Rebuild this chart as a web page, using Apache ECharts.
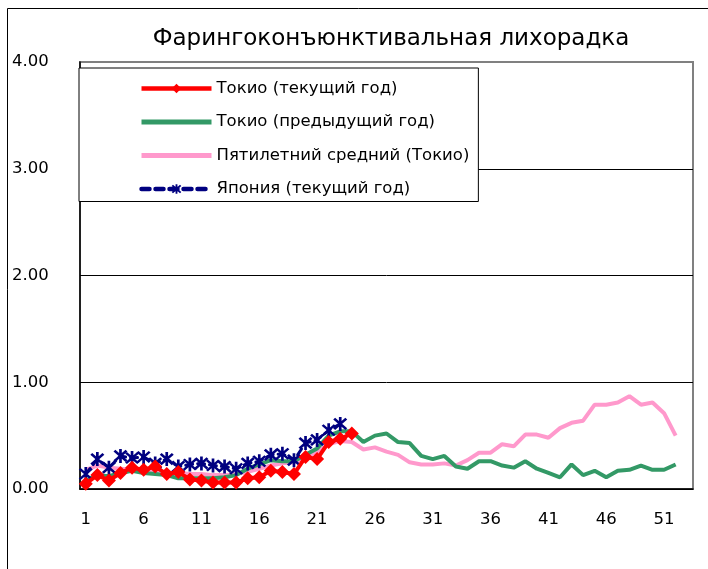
<!DOCTYPE html>
<html>
<head>
<meta charset="utf-8">
<script src="https://cdn.jsdelivr.net/npm/echarts@6/dist/echarts.min.js"></script>
<style>
html,body{margin:0;padding:0;background:#fff;}
#c{width:708px;height:569px;}
</style>
</head>
<body>
<div id="c"></div>
<script>
var weeks = ['1','2','3','4','5','6','7','8','9','10','11','12','13','14','15','16','17','18','19','20','21','22','23','24','25','26','27','28','29','30','31','32','33','34','35','36','37','38','39','40','41','42','43','44','45','46','47','48','49','50','51','52','53'];
var tokyoCurrent = [0.05,0.13,0.08,0.15,0.20,0.18,0.21,0.14,0.16,0.09,0.08,0.06,0.06,0.06,0.10,0.11,0.17,0.16,0.14,0.30,0.28,0.44,0.47,0.52];
var tokyoPrevious = [0.08,0.13,0.12,0.15,0.17,0.15,0.14,0.13,0.10,0.10,
  0.10,0.10,0.11,0.13,0.19,0.23,0.27,0.26,0.26,0.32,
  0.38,0.50,0.54,0.54,0.44,0.50,0.52,0.44,0.43,0.31,
  0.28,0.31,0.21,0.19,0.26,0.26,0.22,0.20,0.26,0.19,
  0.15,0.11,0.23,0.13,0.17,0.11,0.17,0.18,0.22,0.18,0.18,0.23];
var fiveYearAvg = [0.18,0.22,0.20,0.19,0.18,0.17,0.17,0.15,0.15,0.14,
  0.14,0.13,0.13,0.14,0.16,0.19,0.22,0.24,0.25,0.30,
  0.35,0.42,0.45,0.44,0.37,0.39,0.35,0.32,0.25,0.23,
  0.23,0.24,0.22,0.27,0.34,0.34,0.42,0.40,0.51,0.51,
  0.48,0.57,0.62,0.64,0.79,0.79,0.81,0.87,0.79,0.81,0.71,0.50];
var japanCurrent = [0.14,0.28,0.20,0.31,0.29,0.30,0.24,0.28,0.21,0.23,0.24,0.22,0.21,0.19,0.24,0.26,0.32,0.33,0.27,0.43,0.46,0.55,0.61];
var seriesNames = ['Токио (текущий год)','Токио (предыдущий год)','Пятилетний средний (Токио)','Япония (текущий год)'];
var titleText = 'Фарингоконъюнктивальная лихорадка';

var FONT = 'DejaVu Sans';
var star = 'path://M-1,-6L1,-6L1,6L-1,6Z M-5.2,-3.8L-3.8,-5.2L5.2,3.8L3.8,5.2Z M3.8,-5.2L5.2,-3.8L-3.8,5.2L-5.2,3.8Z';

var chart = echarts.init(document.getElementById('c'), null, {renderer:'canvas'});
chart.setOption({
  animation:false,
  backgroundColor:'#fff',
  title:{text:titleText,left:386,textAlign:'center',top:23,textStyle:{fontFamily:FONT,fontSize:23,fontWeight:'normal',color:'#000'}},
  graphic:[{type:'rect',shape:{x:7.5,y:8.5,width:720,height:600},style:{fill:'none',stroke:'#000',lineWidth:1},z:-1}],
  grid:{left:80,top:62,right:15,bottom:80,show:true,borderColor:'#808080',borderWidth:2,backgroundColor:'#fff'},
  legend:{
    orient:'vertical',left:79,top:68,
    backgroundColor:'#fff',borderColor:'#000',borderWidth:1,
    padding:[12,9,4,60],
    itemWidth:70,itemHeight:12,itemGap:16.5,
    textStyle:{fontFamily:FONT,fontSize:16.5,color:'#000'},
    data:[
      {name:seriesNames[0],lineStyle:{width:4.5}},
      {name:seriesNames[1],itemStyle:{opacity:0},lineStyle:{width:5}},
      {name:seriesNames[2],itemStyle:{opacity:0},lineStyle:{width:5}},
      {name:seriesNames[3],lineStyle:{width:4.5,type:[8,6],cap:'round'}}
    ]
  },
  xAxis:{
    type:'category',data:weeks,boundaryGap:true,
    axisLine:{lineStyle:{color:'#000',width:1.5}},
    axisTick:{inside:true,length:6,interval:4,lineStyle:{color:'#000'}},
    axisLabel:{interval:4,margin:22,fontFamily:FONT,fontSize:16.5,color:'#000'},
    splitLine:{show:false}
  },
  yAxis:{
    type:'value',min:0,max:4,interval:1,
    axisLine:{show:true,lineStyle:{color:'#000',width:1.5}},
    axisTick:{show:false},
    axisLabel:{align:'left',margin:68,fontFamily:FONT,fontSize:16.5,color:'#000',formatter:function(v){return v.toFixed(2);}},
    splitLine:{showMaxLine:false,lineStyle:{color:'#000',width:1}}
  },
  series:[
    {name:seriesNames[0],type:'line',data:tokyoCurrent,z:5,symbol:'diamond',symbolSize:14,showAllSymbol:true,
      itemStyle:{color:'#ff0000'},lineStyle:{color:'#ff0000',width:4}},
    {name:seriesNames[1],type:'line',data:tokyoPrevious,z:3,symbol:'none',
      itemStyle:{color:'#339966'},lineStyle:{color:'#339966',width:4}},
    {name:seriesNames[2],type:'line',data:fiveYearAvg,z:2,symbol:'none',
      itemStyle:{color:'#ff99cc'},lineStyle:{color:'#ff99cc',width:4}},
    {name:seriesNames[3],type:'line',data:japanCurrent,z:4,symbol:star,symbolSize:14,showAllSymbol:true,
      itemStyle:{color:'#000080'},lineStyle:{color:'#000080',width:3,type:[7,5],cap:'round'}}
  ]
});
</script>
</body>
</html>
